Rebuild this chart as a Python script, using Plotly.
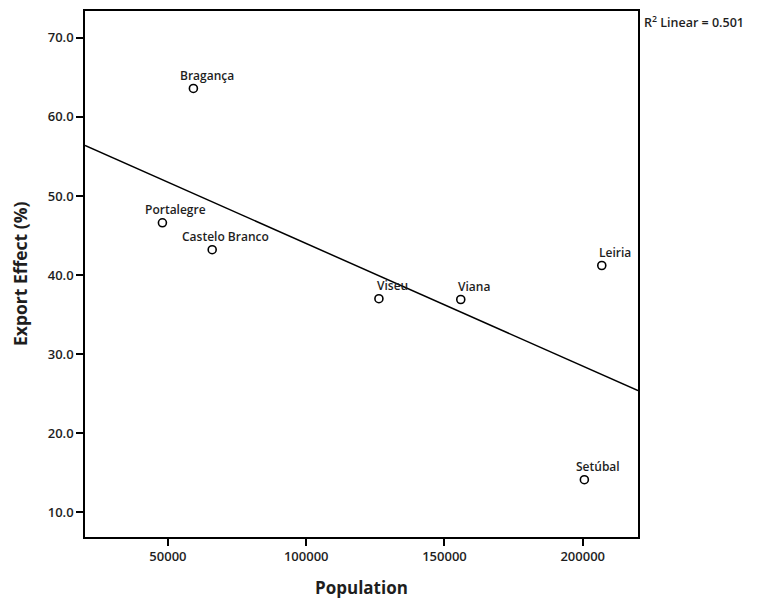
import numpy as np
import plotly.graph_objects as go

districts = ["Bragança", "Portalegre", "Castelo Branco", "Viseu", "Viana", "Leiria", "Setúbal"]
population = [59200, 48000, 66000, 126300, 155900, 206900, 200600]
export_effect = [63.6, 46.6, 43.2, 37.0, 36.9, 41.2, 14.1]

x_ticks = [50000, 100000, 150000, 200000]
y_ticks = [10, 20, 30, 40, 50, 60, 70]
x_range = [20000, 220000]
y_range = [6.85, 73.4]
r2_label = "R<sup>2</sup> Linear = 0.501"

xa = np.array(population, dtype=float)
ya = np.array(export_effect, dtype=float)
slope, intercept = np.polyfit(xa, ya, 1)
fit_x = np.array(x_range, dtype=float)
fit_y = slope * fit_x + intercept

TXT = "#1e1e1e"
FONT = "Open Sans"

fig = go.Figure()
fig.add_trace(go.Scatter(x=fit_x, y=fit_y, mode="lines",
                         line=dict(color="black", width=1.5), showlegend=False, hoverinfo="skip"))
fig.add_trace(go.Scatter(x=population, y=export_effect, mode="markers",
                         marker=dict(symbol="circle-open", size=8, color="black",
                                     line=dict(width=1.6, color="black")),
                         showlegend=False))

for name, px, py in zip(districts, population, export_effect):
    fig.add_annotation(x=px, y=py, text=name, showarrow=False, xshift=13.5, yshift=13,
                       font=dict(family=FONT, size=12, color=TXT, weight=600))

fig.add_annotation(xref="paper", yref="paper", x=1, y=1, xshift=4, yshift=0,
                   xanchor="left", yanchor="top", showarrow=False, text=r2_label,
                   font=dict(family=FONT, size=12.5, color=TXT, weight=600))

# axis titles
fig.add_annotation(xref="paper", yref="paper", x=0, y=0.5, xshift=-65, textangle=-90,
                   xanchor="center", yanchor="middle", showarrow=False, text="Export Effect (%)",
                   font=dict(family=FONT, size=17.5, color=TXT, weight=700))
fig.add_annotation(xref="paper", yref="paper", x=0.5, y=0, yshift=-50,
                   xanchor="center", yanchor="middle", showarrow=False, text="Population",
                   font=dict(family=FONT, size=17, color=TXT, weight=700))

axis_common = dict(showgrid=False, zeroline=False, showline=True, linecolor="black", linewidth=1.6,
                   mirror=True, ticks="outside", ticklen=7, tickwidth=1.6, tickcolor="black",
                   tickfont=dict(family=FONT, size=13, color=TXT, weight=600))

# the page body adds an 8px offset, so the figure is sized 8px smaller
fig.update_layout(
    width=751, height=590,
    margin=dict(l=77, r=121, t=1, b=61),
    plot_bgcolor="white", paper_bgcolor="white",
    xaxis=dict(range=x_range, tickvals=x_ticks, ticktext=[str(v) for v in x_ticks], **axis_common),
    yaxis=dict(range=y_range, tickvals=y_ticks, ticktext=["%.1f" % v for v in y_ticks], **axis_common),
)

fig.write_html("out.html")
